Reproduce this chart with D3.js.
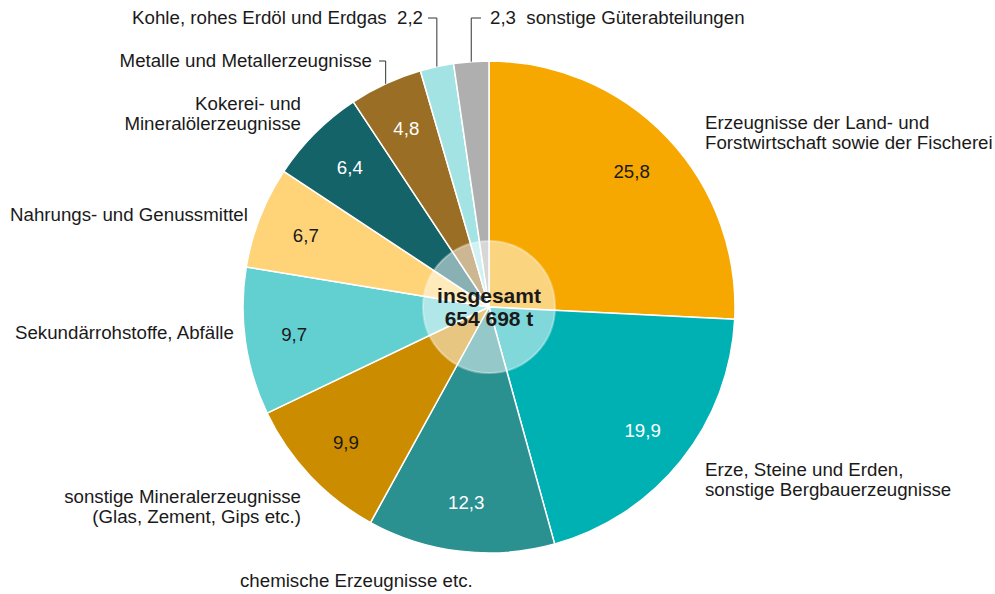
<html>
<head>
    <meta charset="utf-8">
    <title>Güterumschlag</title>
    <style>
        body { margin: 0; background: #fff; }
        text { font-family: "Liberation Sans", Arial, sans-serif; }
    </style>
</head>
<body>
    <script src="https://cdn.jsdelivr.net/npm/d3@7"></script>
    <script>
        // Daten (Anteile in %)
        var categories = [
            ["Erzeugnisse der Land- und", "Forstwirtschaft sowie der Fischerei"],
            ["Erze, Steine und Erden,", "sonstige Bergbauerzeugnisse"],
            ["chemische Erzeugnisse etc."],
            ["sonstige Mineralerzeugnisse", "(Glas, Zement, Gips etc.)"],
            ["Sekundärrohstoffe, Abfälle"],
            ["Nahrungs- und Genussmittel"],
            ["Kokerei- und", "Mineralölerzeugnisse"],
            ["Metalle und Metallerzeugnisse"],
            ["Kohle, rohes Erdöl und Erdgas"],
            ["sonstige Güterabteilungen"]
        ];
        var values = [25.8, 19.9, 12.3, 9.9, 9.7, 6.7, 6.4, 4.8, 2.2, 2.3];
        var totalLabel = ["insgesamt", "654 698 t"];

        var colors = ["#f6a800", "#00b1b4", "#2a9090", "#cc8c00", "#62cfd0",
                      "#ffd479", "#136369", "#9a6e24", "#a4e3e4", "#afafaf"];
        var valueColors = ["#1a1a1a", "#fff", "#fff", "#1a1a1a", "#1a1a1a",
                           "#1a1a1a", "#fff", "#fff", null, null];

        var width = 995, height = 594;
        var cx = 489, cy = 307, R = 246;
        var fontSize = 18.7;

        var svg = d3.select("body").append("svg")
            .attr("width", width)
            .attr("height", height);

        var pie = d3.pie().sort(null).value(function (d) { return d; });
        var piedata = pie(values);

        var arc = d3.arc().innerRadius(0).outerRadius(R);
        var labelArc = d3.arc().innerRadius(R * 0.8).outerRadius(R * 0.8);

        var g = svg.append("g").attr("transform", "translate(" + cx + "," + cy + ")");

        g.selectAll("path")
            .data(piedata)
            .enter()
            .append("path")
            .attr("d", arc)
            .attr("fill", function (d, i) { return colors[i]; })
            .attr("stroke", "#fff")
            .attr("stroke-width", 1.5)
            .attr("stroke-linejoin", "round");

        // Werte in den Segmenten
        g.selectAll("text.val")
            .data(piedata)
            .enter()
            .filter(function (d, i) { return valueColors[i]; })
            .append("text")
            .attr("class", "val")
            .attr("transform", function (d) { return "translate(" + labelArc.centroid(d) + ")"; })
            .attr("text-anchor", "middle")
            .attr("dy", "0.35em")
            .attr("font-size", fontSize)
            .attr("fill", function (d, i) { return valueColors[i]; })
            .text(function (d) { return String(d.value).replace(".", ","); });

        // Kreis in der Mitte
        g.append("circle")
            .attr("r", 66)
            .attr("fill", "#fff")
            .attr("fill-opacity", 0.5)
            .attr("stroke", "#fff")
            .attr("stroke-opacity", 0.35)
            .attr("stroke-width", 2);

        g.append("text")
            .attr("text-anchor", "middle")
            .attr("font-size", 21)
            .attr("font-weight", "bold")
            .attr("fill", "#1a1a1a")
            .selectAll("tspan")
            .data(totalLabel)
            .enter()
            .append("tspan")
            .attr("x", 0)
            .attr("y", function (d, i) { return -4 + i * 23; })
            .text(function (d) { return d; });

        // Beschriftung außen
        var labelPos = [
            { x: 705, y: 129, anchor: "start" },
            { x: 705, y: 476, anchor: "start" },
            { x: 240, y: 587, anchor: "start" },
            { x: 301, y: 503, anchor: "end" },
            { x: 15, y: 339, anchor: "start" },
            { x: 10, y: 221, anchor: "start" },
            { x: 301, y: 110, anchor: "end" },
            { x: 372, y: 67, anchor: "end" },
            { x: 423, y: 24, anchor: "end" },
            { x: 490, y: 24, anchor: "start" }
        ];

        svg.selectAll("text.lab")
            .data(piedata)
            .enter()
            .append("text")
            .attr("class", "lab")
            .attr("font-size", fontSize)
            .attr("fill", "#1a1a1a")
            .attr("text-anchor", function (d, i) { return labelPos[i].anchor; })
            .style("white-space", "pre")
            .each(function (d, i) {
                var lines = categories[i].slice();
                var v = String(d.value).replace(".", ",");
                if (i === 8) lines[0] = lines[0] + "  " + v;
                if (i === 9) lines[0] = v + "  " + lines[0];
                d3.select(this).selectAll("tspan")
                    .data(lines)
                    .enter()
                    .append("tspan")
                    .attr("x", labelPos[i].x)
                    .attr("y", function (l, j) { return labelPos[i].y + j * 20; })
                    .text(function (l) { return l; });
            });

        // Hinweislinien für die kleinen Segmente
        var leaders = [
            { i: 7, x0: 379, y: 61 },
            { i: 8, x0: 428, y: 18 },
            { i: 9, x0: 481, y: 18 }
        ];
        leaders.forEach(function (l) {
            var d = piedata[l.i];
            var a = (d.startAngle + d.endAngle) / 2;
            var lx = cx + R * Math.sin(a);
            var ly = cy - Math.sqrt(R * R - (lx - cx) * (lx - cx));
            svg.append("path")
                .attr("d", "M" + l.x0 + "," + l.y + "H" + lx + "V" + ly)
                .attr("fill", "none")
                .attr("stroke", "#333")
                .attr("stroke-width", 1);
        });
    </script>
</body>
</html>
